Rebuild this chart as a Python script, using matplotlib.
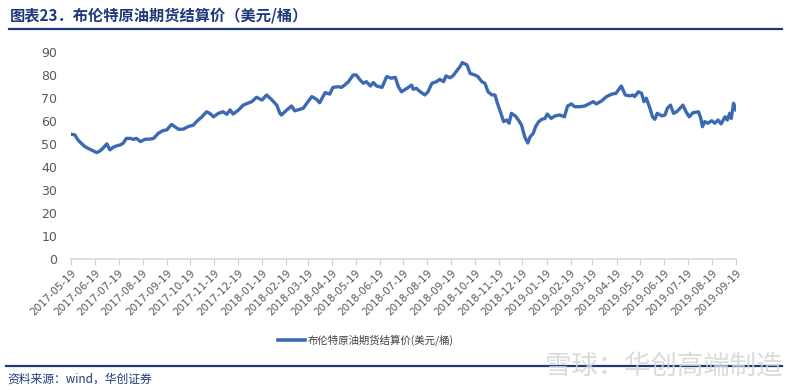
import matplotlib
matplotlib.use("Agg")
import matplotlib.pyplot as plt
import numpy as np
import pandas as pd

plt.rcParams['font.family'] = ['Noto Sans CJK SC', 'DejaVu Sans']

# 布伦特原油期货结算价 (美元/桶)
dates = [
    "2017-05-19", "2017-05-24", "2017-05-28", "2017-06-02", "2017-06-06", "2017-06-12",
    "2017-06-17", "2017-06-21", "2017-06-25", "2017-06-29", "2017-07-04", "2017-07-08",
    "2017-07-12", "2017-07-17", "2017-07-21", "2017-07-25", "2017-07-29", "2017-08-03",
    "2017-08-07", "2017-08-11", "2017-08-16", "2017-08-22", "2017-08-28", "2017-09-02",
    "2017-09-08", "2017-09-14", "2017-09-19", "2017-09-25", "2017-09-29", "2017-10-04",
    "2017-10-10", "2017-10-16", "2017-10-23", "2017-10-27", "2017-11-03", "2017-11-09",
    "2017-11-13", "2017-11-18", "2017-11-24", "2017-11-30", "2017-12-05", "2017-12-09",
    "2017-12-13", "2017-12-20", "2017-12-26", "2018-01-01", "2018-01-06", "2018-01-12",
    "2018-01-19", "2018-01-25", "2018-01-31", "2018-02-07", "2018-02-11", "2018-02-13",
    "2018-02-20", "2018-02-26", "2018-03-02", "2018-03-07", "2018-03-13", "2018-03-19",
    "2018-03-24", "2018-03-30", "2018-04-03", "2018-04-10", "2018-04-16", "2018-04-20",
    "2018-04-27", "2018-05-01", "2018-05-05", "2018-05-10", "2018-05-16", "2018-05-20",
    "2018-05-25", "2018-05-29", "2018-06-02", "2018-06-07", "2018-06-11", "2018-06-15",
    "2018-06-22", "2018-06-28", "2018-07-04", "2018-07-09", "2018-07-13", "2018-07-17",
    "2018-07-24", "2018-07-30", "2018-08-01", "2018-08-05", "2018-08-10", "2018-08-16",
    "2018-08-20", "2018-08-25", "2018-08-31", "2018-09-04", "2018-09-09", "2018-09-12",
    "2018-09-17", "2018-09-21", "2018-09-26", "2018-09-30", "2018-10-03", "2018-10-09",
    "2018-10-13", "2018-10-19", "2018-10-23", "2018-10-28", "2018-11-01", "2018-11-05",
    "2018-11-10", "2018-11-14", "2018-11-17", "2018-11-20", "2018-11-25", "2018-11-29",
    "2018-12-02", "2018-12-05", "2018-12-10", "2018-12-14", "2018-12-18", "2018-12-22",
    "2018-12-26", "2018-12-29", "2019-01-02", "2019-01-05", "2019-01-09", "2019-01-13",
    "2019-01-17", "2019-01-20", "2019-01-25", "2019-01-30", "2019-02-05", "2019-02-11",
    "2019-02-15", "2019-02-20", "2019-02-24", "2019-03-03", "2019-03-09", "2019-03-16",
    "2019-03-20", "2019-03-24", "2019-03-31", "2019-04-06", "2019-04-13", "2019-04-18",
    "2019-04-22", "2019-04-25", "2019-04-30", "2019-05-06", "2019-05-10", "2019-05-12",
    "2019-05-17", "2019-05-21", "2019-05-24", "2019-05-27", "2019-05-31", "2019-06-04",
    "2019-06-07", "2019-06-10", "2019-06-16", "2019-06-20", "2019-06-23", "2019-06-27",
    "2019-07-01", "2019-07-05", "2019-07-08", "2019-07-13", "2019-07-17", "2019-07-21",
    "2019-07-26", "2019-08-02", "2019-08-05", "2019-08-07", "2019-08-10", "2019-08-14",
    "2019-08-19", "2019-08-23", "2019-08-27", "2019-08-31", "2019-09-05", "2019-09-08",
    "2019-09-11", "2019-09-13", "2019-09-16", "2019-09-19",
]
brent = [
    54.3, 54.0, 51.8, 50.1, 48.9, 47.8,
    47.0, 46.3, 47.0, 48.2, 50.1, 47.5,
    48.6, 49.3, 49.6, 50.4, 52.5, 52.5,
    52.1, 52.5, 51.1, 52.1, 52.2, 52.5,
    54.7, 55.9, 56.2, 58.6, 57.6, 56.5,
    56.5, 57.6, 58.3, 59.8, 61.9, 64.1,
    63.4, 61.9, 63.4, 64.1, 63.0, 64.9,
    63.1, 64.9, 67.0, 67.8, 68.5, 70.4,
    69.2, 71.4, 69.5, 67.0, 63.4, 62.7,
    64.9, 66.6, 64.5, 65.0, 65.6, 68.5,
    70.7, 69.5, 68.0, 72.4, 71.8, 74.7,
    75.0, 74.7, 75.7, 77.2, 80.1, 80.1,
    77.9, 76.5, 77.2, 75.3, 76.8, 75.3,
    74.7, 79.4, 78.7, 79.1, 75.0, 72.8,
    74.3, 75.7, 73.9, 74.3, 72.8, 71.4,
    72.8, 76.5, 77.2, 78.2, 77.2, 79.7,
    78.9, 79.7, 82.0, 83.7, 85.5, 84.5,
    80.8, 80.1, 79.4, 77.2, 76.5, 72.8,
    71.4, 71.4, 67.8, 64.9, 59.8, 60.5,
    59.1, 63.4, 62.3, 60.5, 58.3, 53.2,
    50.5, 53.2, 54.7, 57.6, 59.8, 60.8,
    61.2, 63.1, 61.2, 62.3, 62.7, 61.9,
    66.6, 67.5, 66.3, 66.3, 66.6, 67.8,
    68.5, 67.5, 68.9, 70.7, 71.8, 72.1,
    73.9, 75.3, 71.4, 71.0, 71.4, 70.7,
    72.8, 72.1, 68.5, 70.0, 66.3, 61.9,
    60.8, 63.4, 62.3, 62.7, 65.6, 67.0,
    63.4, 64.1, 65.2, 67.0, 64.1, 61.9,
    63.7, 64.1, 61.2, 57.6, 59.8, 59.1,
    60.2, 59.1, 60.5, 58.8, 61.9, 60.5,
    63.4, 61.2, 67.8, 64.9,
]
tick_dates = pd.date_range("2017-05-01", "2019-09-01", freq="MS") + pd.Timedelta(days=18)
tick_labels = [d.strftime("%Y-%m-%d") for d in tick_dates]
yticks = [0, 10, 20, 30, 40, 50, 60, 70, 80, 90]

line_color = "#3B6AB3"
grey = "#595959"
navy = "#1F3A7A"

fig = plt.figure(figsize=(7.86, 3.9), dpi=100)
ax = fig.add_axes([0.0903, 0.336, 0.846, 0.530])

x = pd.to_datetime(dates)
ax.plot(x, brent, color=line_color, lw=2.4, solid_joinstyle="round")

ax.set_ylim(0, 90)
ax.set_yticks(yticks)
ax.set_xlim(tick_dates[0], tick_dates[-1])
ax.set_xticks(tick_dates)
ax.set_xticklabels(tick_labels, rotation=45, ha="right", rotation_mode="anchor",
                   fontsize=7.5, color=grey, family="DejaVu Sans")
ax.tick_params(axis="x", length=4, color="#d0d0d0", pad=2)
ax.tick_params(axis="y", length=0, labelsize=9, labelcolor=grey, pad=10)
for lab in ax.get_yticklabels():
    lab.set_family("DejaVu Sans")
for s in ["top", "right", "left"]:
    ax.spines[s].set_visible(False)
ax.spines["bottom"].set_color("#d9d9d9")
ax.spines["bottom"].set_linewidth(1.2)

# title and rules
fig.text(0.012, 0.96, "图表23．布伦特原油期货结算价（美元/桶）", fontsize=11,
         fontweight="bold", color=navy, va="center")
fig.add_artist(plt.Line2D([0.012, 0.995], [0.926, 0.926], color=navy, lw=1.6))
fig.add_artist(plt.Line2D([0.008, 0.995], [0.062, 0.062], color=navy, lw=1.6))
fig.text(0.01, 0.028, "资料来源：wind，华创证券", fontsize=8.5, color=navy,
         style="italic", va="center")

# legend
fig.add_artist(plt.Line2D([0.354, 0.388], [0.128, 0.128], color=line_color, lw=2.6))
fig.text(0.392, 0.128, "布伦特原油期货结算价(美元/桶)", fontsize=7.5, color="#404040",
         va="center")

# watermark
fig.text(0.845, 0.06, "雪球：华创高端制造", fontsize=19, color="#d4d4d4",
         ha="center", va="center", alpha=0.85)

fig.savefig("out.png", dpi=100)
